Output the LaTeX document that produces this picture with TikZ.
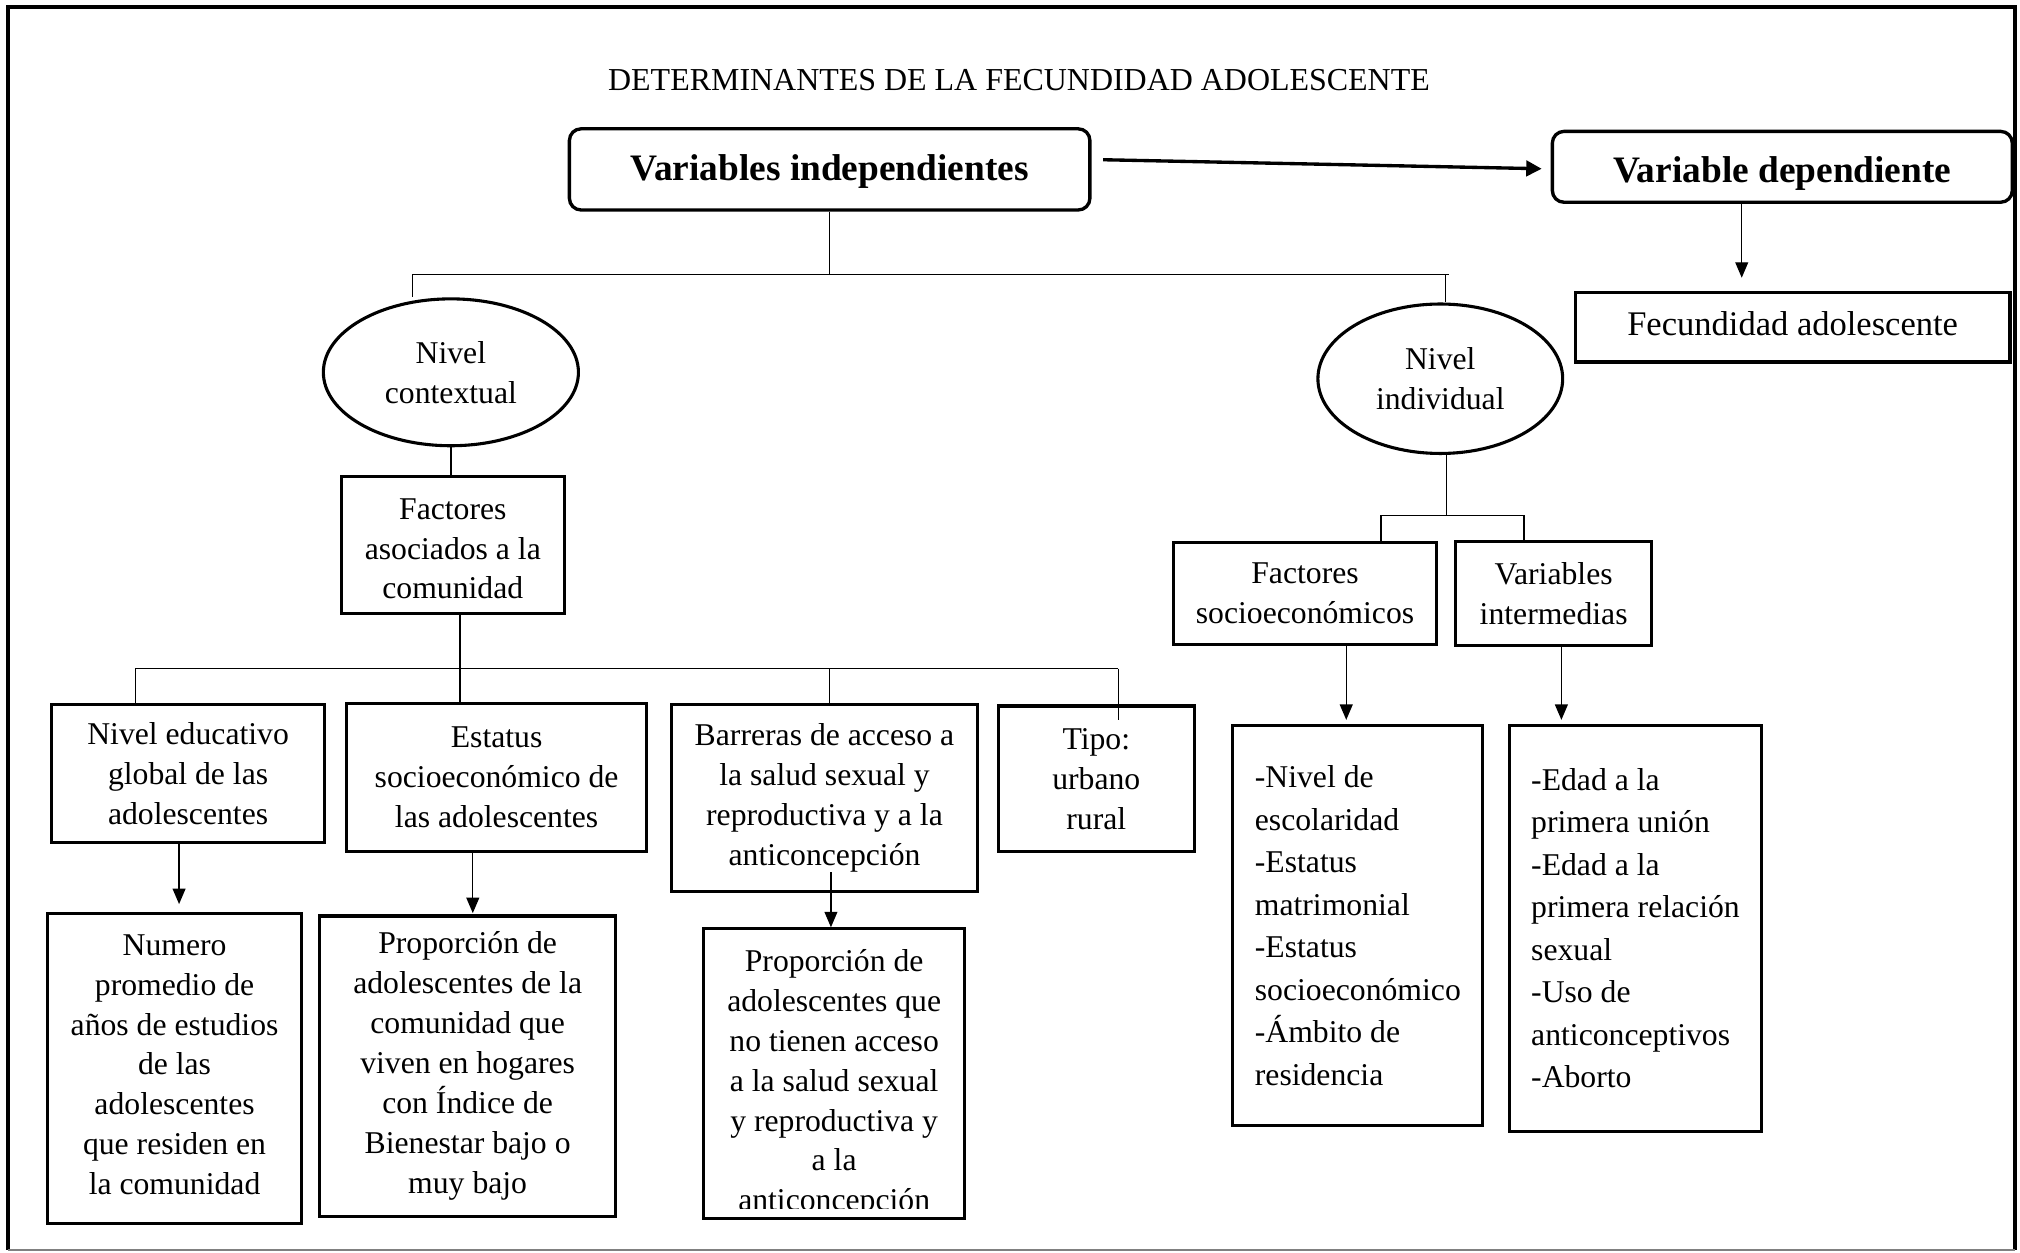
\documentclass[tikz,border=0pt]{standalone}
\usepackage{fontspec}
\setmainfont{Liberation Serif}
\usetikzlibrary{shapes.geometric,arrows.meta,calc}
\tikzset{
  base/.style={font=\fontsize{12.3}{15.5}\selectfont, align=center, inner sep=0pt},
  box/.style={base, draw, line width=1.2pt, rectangle},
  lst/.style={box, align=left, font=\fontsize{12.3}{16.5}\selectfont},
  rbox/.style={draw, line width=1.3pt, rounded corners=4.5pt, inner sep=0pt, align=center, font=\bfseries\fontsize{14.5}{17}\selectfont},
  ell/.style={base, draw, ellipse, line width=1.2pt},
  conn/.style={line width=0.5pt},
  arr/.style={line width=0.5pt, -{Triangle[length=6pt,width=5pt]}},
  bigarr/.style={line width=1.3pt, -{Triangle[length=6pt,width=6pt]}},
}
\begin{document}
\begin{tikzpicture}[x=0.5pt,y=-0.5pt]
\useasboundingbox (0,0) rectangle (1568,972);
% frame
\draw[line width=1.6pt] (6,970) -- (6,5.5) -- (1564,5.5) -- (1564,970);
\draw[gray, line width=0.8pt] (6,970) -- (1564,970);

\node[base, font=\fontsize{12.4}{15}\selectfont] (title) at (791,62) {DETERMINANTES DE LA FECUNDIDAD ADOLESCENTE};

\node[rbox, minimum width=202pt, minimum height=31.5pt, text height=10.5pt, text depth=1.8pt] (vi) at (644,131.5) {Variables independientes};
\node[rbox, minimum width=178.5pt, minimum height=27.5pt, text height=12pt, text depth=0pt] (vd) at (1383.5,129.5) {Variable dependiente};
\node[box, line width=1.4pt, font=\fontsize{13.4}{16}\selectfont, minimum width=168.5pt, minimum height=27pt, text height=9.1pt, text depth=3pt] (fec) at (1391.5,254) {Fecundidad adolescente};

\node[ell, minimum width=99pt, minimum height=57pt] (ctx) at (350,289) {Nivel\\contextual};
\node[ell, minimum width=95pt, minimum height=58pt] (ind) at (1118,294) {Nivel\\individual};

\node[box, minimum width=86.5pt, minimum height=53pt] (fac) at (351.5,423) {};
\node[base] (fact) at (351.5,426) {Factores\\asociados a la\\comunidad};

\node[box, minimum width=106pt, minimum height=53.5pt] (ne) at (146,600.5) {Nivel educativo\\global de las\\adolescentes};
\node[box, minimum width=116.5pt, minimum height=57.5pt] (est) at (385.5,603.5) {Estatus\\socioeconómico de\\las adolescentes};
\node[box, minimum width=119pt, minimum height=72.5pt] (bar) at (640,619.5) {Barreras de acceso a\\la salud sexual y\\reproductiva y a la\\anticoncepción};
\node[box, minimum width=76pt, minimum height=56.5pt] (tipo) at (851,604.5) {Tipo:\\urbano\\rural};

\node[box, minimum width=98.5pt, minimum height=120.5pt] (num) at (135.5,829.5) {};
\node[base] (numt) at (135.5,826.5) {Numero\\promedio de\\años de estudios\\de las\\adolescentes\\que residen en\\la comunidad};
\node[box, minimum width=115pt, minimum height=116.5pt] (p1) at (363,827.5) {Proporción de\\adolescentes de la\\comunidad que\\viven en hogares\\con Índice de\\Bienestar bajo o\\muy bajo};
\begin{scope}
\clip (546,721) rectangle (749,938);
\node[base] (p2t) at (647.5,841) {Proporción de\\adolescentes que\\no tienen acceso\\a la salud sexual\\y reproductiva y\\a la\\anticoncepción};
\end{scope}
\node[box, minimum width=101.5pt, minimum height=112.5pt] (p2) at (647.5,833.5) {};

\node[box, minimum width=102pt, minimum height=39.5pt] (fs) at (1013,460.5) {Factores\\socioeconómicos};
\node[box, minimum width=76pt, minimum height=40.5pt] (vint) at (1206,460.5) {Variables\\intermedias};

\node[lst, minimum width=97pt, minimum height=155.5pt] (l1) at (1054,718.5) {-Nivel de\\escolaridad\\-Estatus\\matrimonial\\-Estatus\\socioeconómico\\-Ámbito de\\residencia};
\node[lst, minimum width=97.5pt, minimum height=157.5pt] (l2) at (1269.5,720.5) {-Edad a la\\primera unión\\-Edad a la\\primera relación\\sexual\\-Uso de\\anticonceptivos\\-Aborto};

% top arrow
\draw[bigarr] ([xshift=4.5pt,yshift=3.75pt]vi.east) -- ([xshift=-3.5pt,yshift=-0.75pt]vd.west);

% upper tree
\coordinate (hl) at (320,213);
\coordinate (hr) at (1122,213);
\draw[conn] (vi.south) -- (vi.south |- hl);
\draw[conn] (hl) -- ([xshift=1.5pt]hr);
\draw[conn] (hl) -- (hl |- ctx.north);
\draw[conn] (hr) -- (hr |- ind.north);
\draw[conn] (ctx.south) -- (ctx.south |- fac.north);

% contextual tree
\coordinate (h2l) at (105,519);
\coordinate (h2m) at (357,519);
\coordinate (h2b) at (644,519);
\coordinate (h2r) at (868,519);
\coordinate (tipoin) at ($(h2r |- tipo.north)+(0,12)$);
\draw[conn] (h2m |- fac.south) -- (h2m |- est.north);
\draw[conn] (h2l) -- (h2r);
\draw[conn] (h2l) -- (h2l |- ne.north);
\draw[conn] (h2b) -- (h2b |- bar.north);
\draw[conn] (h2r) -- (tipoin);

% individual tree
\coordinate (j4) at (1123,400);
\coordinate (h3l) at (1072,400);
\coordinate (h3r) at (1183,400);
\draw[conn] (j4 |- ind.south) -- (j4);
\draw[conn] (h3l) -- (h3r);
\draw[conn] (h3l) -- (h3l |- fs.north);
\draw[conn] (h3r) -- (h3r |- vint.north);

% arrows
\coordinate (a1) at ($(vd.south)+(-31.5,0)$);
\draw[arr, shorten >=5pt] (a1) -- (a1 |- fec.north);
\coordinate (a2) at ($(ne.south)+(-7,0)$);
\draw[arr, shorten >=3pt] (a2) -- (a2 |- num.north);
\coordinate (a3) at ($(est.south)+(-18.5,0)$);
\draw[arr, shorten >=0.5pt] (a3) -- (a3 |- p1.north);
\coordinate (a4) at ($(bar.south)+(5,-16)$);
\draw[arr] (a4) -- (a4 |- p2.north);
\coordinate (a5) at ($(fs.south)+(32,0)$);
\draw[arr, shorten >=1.5pt] (a5) -- (a5 |- l1.north);
\coordinate (a6) at ($(vint.south)+(6,0)$);
\draw[arr, shorten >=1.5pt] (a6) -- (a6 |- l2.north);
\end{tikzpicture}
\end{document}
